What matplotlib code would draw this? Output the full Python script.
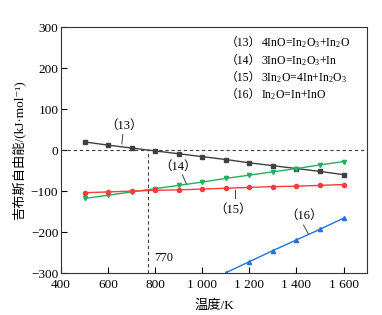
import matplotlib
matplotlib.use("Agg")
import matplotlib.pyplot as plt
import numpy as np

plt.rcParams['font.family'] = ['Liberation Serif', 'Noto Sans CJK SC', 'DejaVu Sans']
plt.rcParams['mathtext.fontset'] = 'custom'
plt.rcParams['mathtext.rm'] = 'Liberation Serif'
plt.rcParams['mathtext.it'] = 'Liberation Serif:italic'
plt.rcParams['axes.unicode_minus'] = True

T13 = [500, 600, 700, 800, 900, 1000, 1100, 1200, 1300, 1400, 1500, 1600]
G13 = [20, 12, 5, -2, -9, -16, -23, -31, -38, -45, -52, -60]
T14 = [500, 600, 700, 800, 900, 1000, 1100, 1200, 1300, 1400, 1500, 1600]
G14 = [-118, -110, -102, -94, -86, -78, -69, -61, -53, -45, -36, -28]
T15 = [500, 600, 700, 800, 900, 1000, 1100, 1200, 1300, 1400, 1500, 1600]
G15 = [-104, -102, -100, -98, -97, -95, -93, -91, -89, -88, -86, -84]
T16 = [1100, 1200, 1300, 1400, 1500, 1600]
G16 = [-299, -272, -245, -219, -193, -166]

xticks = [400, 600, 800, 1000, 1200, 1400, 1600]
xticklabels = ['400', '600', '800', '1 000', '1 200', '1 400', '1 600']
yticks = [-300, -200, -100, 0, 100, 200, 300]

fig = plt.figure(figsize=(3.82, 3.15), dpi=100)
ax = fig.add_axes([0.160, 0.133, 0.801, 0.781])

ms = 3
ax.plot(T13, G13, '-s', color='#404040', lw=1.0, ms=ms)
ax.plot(T14, G14, '-v', color='#22b060', lw=1.0, ms=ms)
ax.plot(T15, G15, '-o', color='#ff3c3c', lw=1.0, ms=ms)
ax.plot(T16, G16, '-^', color='#2272e0', lw=1.0, ms=ms)

ax.axhline(0, color='#404040', lw=0.8, ls=(0, (3, 2.5)))
ax.plot([770, 770], [-300, 0], color='#404040', lw=0.8, ls=(0, (3, 2.5)))

ax.set_xlim(400, 1700)
ax.set_ylim(-300, 300)
ax.set_xticks(xticks)
ax.set_xticklabels(xticklabels)
ax.set_yticks(yticks)
ax.tick_params(direction='in', length=4, width=0.8, labelsize=9.5, top=False, right=False, pad=2)
ax.tick_params(axis='x', pad=4)
for s in ax.spines.values():
    s.set_linewidth(0.8)
    s.set_color('#333333')

ax.set_xlabel('温度/K', fontsize=9.5, labelpad=6)
ax.set_ylabel('吉布斯自由能/(kJ·mol⁻¹)', fontsize=9.5, labelpad=4)

fs = 9
ax.text(834, -262, '770', fontsize=fs, ha='center', va='center')
ax.text(668, 59, '（13）', fontsize=fs, ha='center', va='center')
ax.plot([662, 658], [38, 15], color='#404040', lw=0.7)
ax.text(898, -41, '（14）', fontsize=fs, ha='center', va='center')
ax.plot([915, 932], [-60, -82], color='#404040', lw=0.7)
ax.text(1132, -146, '（15）', fontsize=fs, ha='center', va='center')
ax.plot([1138, 1138], [-98, -117], color='#404040', lw=0.7)
ax.text(1430, -161, '（16）', fontsize=fs, ha='center', va='center')
ax.plot([1430, 1450], [-183, -204], color='#404040', lw=0.7)

leg_num = ['（13）', '（14）', '（15）', '（16）']
leg_eq = ['4InO=In$_2$O$_3$+In$_2$O',
          '3InO=In$_2$O$_3$+In',
          '3In$_2$O=4In+In$_2$O$_3$',
          'In$_2$O=In+InO']
ys = [43, 61, 78, 95]
for n, t, yp in zip(leg_num, leg_eq, ys):
    fig.text(226 / 382, 1 - yp / 315, n, fontsize=8.5, ha='left', va='center')
    fig.text(261 / 382, 1 - yp / 315, t, fontsize=8.5, ha='left', va='center')

fig.savefig('out.png', dpi=100)
